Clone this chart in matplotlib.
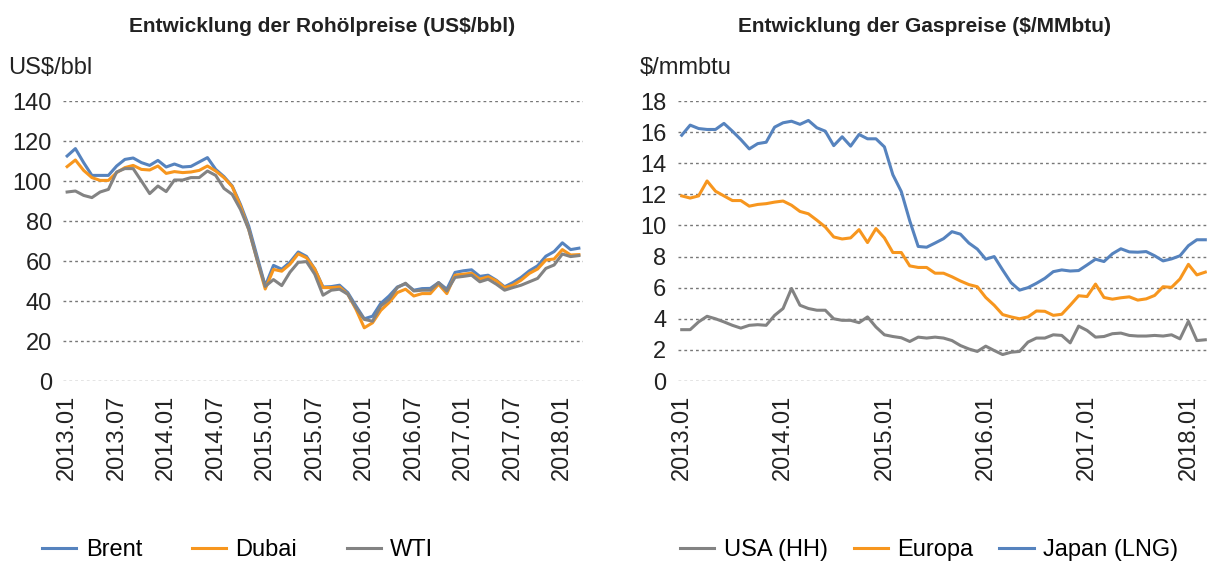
import matplotlib
matplotlib.use("Agg")
import matplotlib.pyplot as plt

plt.rcParams['font.family'] = ['Liberation Sans', 'DejaVu Sans']

# monthly 2013.01 - 2018.03
oil_ticks = ["2013.01", "2013.07", "2014.01", "2014.07", "2015.01", "2015.07",
             "2016.01", "2016.07", "2017.01", "2017.07", "2018.01"]
gas_ticks = ["2013.01", "2014.01", "2015.01", "2016.01", "2017.01", "2018.01"]

brent = [112.5, 116.2, 109.2, 102.8, 102.8, 102.8, 107.5, 110.8, 111.5, 109.2,
         107.8, 110.3, 107.0, 108.5, 107.0, 107.3, 109.5, 111.7, 105.8, 102.2,
         97.5, 88.3, 77.5, 62.5, 47.5, 57.8, 55.9, 59.4, 64.5, 62.3,
         56.0, 47.0, 47.2, 47.9, 44.2, 37.5, 31.1, 32.4, 38.8, 42.5,
         47.0, 48.6, 45.4, 46.2, 46.3, 49.2, 45.9, 54.3, 55.1, 55.6,
         52.3, 52.9, 50.4, 47.1, 49.2, 51.8, 55.1, 57.6, 62.4, 64.7,
         69.1, 65.7, 66.4]
dubai = [107.2, 110.5, 105.3, 101.7, 100.3, 100.3, 104.2, 106.7, 107.8, 105.8,
         105.5, 107.5, 103.8, 104.7, 104.2, 104.5, 105.3, 107.5, 105.0, 101.7,
         97.2, 87.5, 75.8, 60.8, 46.0, 55.8, 54.9, 58.4, 63.6, 61.6,
         56.0, 46.7, 46.7, 47.0, 43.4, 35.8, 26.6, 29.1, 35.3, 39.2,
         44.2, 45.9, 42.5, 43.7, 43.7, 48.4, 43.7, 52.9, 53.4, 53.9,
         50.9, 52.1, 50.1, 46.7, 47.9, 50.4, 53.8, 56.0, 60.5, 61.0,
         65.7, 63.0, 63.2]
wti = [94.5, 95.0, 92.8, 91.7, 94.5, 95.8, 104.5, 106.2, 106.2, 100.0,
       93.7, 97.5, 94.7, 100.5, 100.5, 101.7, 101.7, 105.0, 102.8, 96.3,
       93.3, 85.8, 75.8, 60.8, 47.3, 50.7, 47.7, 54.4, 59.3, 59.7,
       53.4, 42.9, 45.4, 45.9, 43.4, 36.6, 30.8, 29.9, 37.5, 40.8,
       46.7, 48.9, 45.0, 45.4, 45.4, 49.2, 45.0, 51.8, 52.3, 52.9,
       49.6, 50.9, 48.4, 45.4, 46.7, 47.9, 49.6, 51.3, 56.3, 58.0,
       63.5, 62.2, 62.7]

usa_hh = [3.3, 3.3, 3.8, 4.16, 4.0, 3.8, 3.58, 3.4, 3.58, 3.62,
          3.58, 4.22, 4.66, 5.95, 4.87, 4.66, 4.55, 4.55, 4.0, 3.9,
          3.9, 3.75, 4.12, 3.47, 2.97, 2.86, 2.78, 2.54, 2.82, 2.76,
          2.82, 2.76, 2.6, 2.28, 2.06, 1.9, 2.24, 1.96, 1.7, 1.85,
          1.9, 2.5, 2.76, 2.76, 2.97, 2.93, 2.45, 3.53, 3.25, 2.82,
          2.86, 3.04, 3.08, 2.93, 2.89, 2.89, 2.93, 2.89, 2.97, 2.71,
          3.84, 2.6, 2.65]
europa = [11.9, 11.76, 11.9, 12.86, 12.2, 11.9, 11.6, 11.6, 11.24, 11.35,
          11.4, 11.5, 11.57, 11.3, 10.9, 10.75, 10.34, 9.9, 9.26, 9.13,
          9.2, 9.73, 8.9, 9.8, 9.2, 8.26, 8.26, 7.4, 7.3, 7.3,
          6.93, 6.93, 6.7, 6.43, 6.2, 6.06, 5.37, 4.87, 4.27, 4.12,
          4.0, 4.12, 4.5, 4.48, 4.22, 4.29, 4.87, 5.48, 5.43, 6.23,
          5.37, 5.26, 5.35, 5.41, 5.2, 5.28, 5.5, 6.06, 6.02, 6.56,
          7.5, 6.82, 7.0]
japan_lng = [15.8, 16.45, 16.23, 16.17, 16.17, 16.56, 16.06, 15.52, 14.92, 15.26,
             15.35, 16.32, 16.6, 16.7, 16.5, 16.75, 16.28, 16.06, 15.13, 15.7,
             15.1, 15.85, 15.57, 15.57, 15.05, 13.26, 12.18, 10.3, 8.65, 8.6,
             8.87, 9.15, 9.6, 9.44, 8.87, 8.48, 7.83, 8.0, 7.14, 6.32,
             5.84, 6.0, 6.28, 6.6, 7.03, 7.14, 7.07, 7.1, 7.46, 7.83,
             7.68, 8.18, 8.5, 8.3, 8.28, 8.32, 8.05, 7.72, 7.85, 8.05,
             8.7, 9.08, 9.08]

BLUE = "#5683BE"
ORANGE = "#F7961E"
GREY = "#838383"
TXT = "#222222"
FS = 17

fig = plt.figure(figsize=(12.08, 5.63), dpi=100)
ax1 = fig.add_axes([63 / 1208, 1 - 381 / 563, 520 / 1208, 280 / 563])
ax2 = fig.add_axes([677.5 / 1208, 1 - 381 / 563, 529.5 / 1208, 280 / 563])


def style_axis(ax, ymax, ystep, xmax, labels, every):
    x = list(range(len(brent)))
    ax.set_xlim(-0.5, xmax)
    ax.set_ylim(0, ymax)
    ax.set_yticks(range(0, ymax + 1, ystep))
    ax.set_xticks(x[::every][:len(labels)])
    ax.set_xticklabels(labels, rotation=90)
    for s in ax.spines.values():
        s.set_visible(False)
    ax.tick_params(length=0, labelsize=FS, colors=TXT, pad=8)
    ax.tick_params(axis="x", pad=10)
    ax.grid(axis="y", color="#777777", linestyle=(0, (2, 2.2)), linewidth=1.0)
    ax.set_axisbelow(True)
    return x


x = style_axis(ax1, 140, 20, 62.5, oil_ticks, 6)
ax1.plot(x, brent, color=BLUE, lw=2.2, label="Brent")
ax1.plot(x, dubai, color=ORANGE, lw=2.2, label="Dubai")
ax1.plot(x, wti, color=GREY, lw=2.2, label="WTI")

x = style_axis(ax2, 18, 2, 62.2, gas_ticks, 12)
ax2.plot(x, usa_hh, color=GREY, lw=2.2, label="USA (HH)")
ax2.plot(x, europa, color=ORANGE, lw=2.2, label="Europa")
ax2.plot(x, japan_lng, color=BLUE, lw=2.2, label="Japan (LNG)")

title_font = dict(fontsize=15, fontweight="bold", color=TXT)
fig.text(322 / 1208, 1 - 27 / 563, "Entwicklung der Rohölpreise (US$/bbl)",
         ha="center", va="center", **title_font)
fig.text(925 / 1208, 1 - 27 / 563, "Entwicklung der Gaspreise ($/MMbtu)",
         ha="center", va="center", **title_font)

fig.text(8 / 1208, 1 - 68 / 563, "US$/bbl", ha="left", va="center",
         fontsize=FS, color=TXT)
fig.text(640 / 1208, 1 - 68 / 563, "$/mmbtu", ha="left", va="center",
         fontsize=FS, color=TXT)

leg_kw = dict(ncol=3, frameon=False, fontsize=FS, handlelength=1.45,
              handletextpad=0.4, loc="center left", borderaxespad=0,
              borderpad=0, bbox_transform=fig.transFigure)
ax1.legend(bbox_to_anchor=(42 / 1208, 1 - 550 / 563), columnspacing=2.1, **leg_kw)
ax2.legend(bbox_to_anchor=(680 / 1208, 1 - 550 / 563), columnspacing=1.1, **leg_kw)

fig.savefig("out.png", dpi=100)
